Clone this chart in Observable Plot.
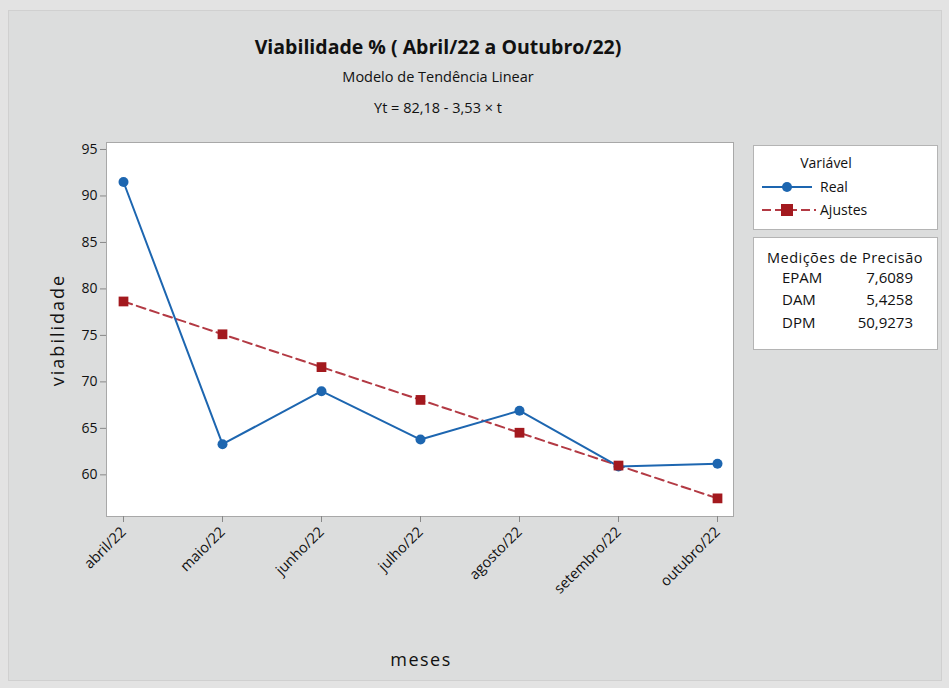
<!DOCTYPE html>
<html><head><meta charset="utf-8">
<script src="https://cdn.jsdelivr.net/npm/d3@7"></script>
<script src="https://cdn.jsdelivr.net/npm/@observablehq/plot@0.6"></script>
<style>
html,body{margin:0;padding:0;background:#e3e3e3;}
#wrap{position:relative;width:949px;height:688px;font-family:"Open Sans",sans-serif;overflow:hidden;background:#e3e3e3;color:#111}
#panel{position:absolute;left:8px;top:10px;width:932px;height:669px;background:#dcdddd;border:1px solid #d0d0d0}
#chart{position:absolute;left:0;top:0}
.t{position:absolute;white-space:nowrap;}
.c{transform:translateX(-50%);}
.box{position:absolute;background:#fff;border:1px solid #b4b4b4;}
#acc .t{line-height:1.15;}
</style></head>
<body><div id="wrap"><div id="panel"></div><div id="chart"></div>
<div class="t c" style="left:438px;top:33px;font-size:19.5px;font-weight:700;">Viabilidade % ( Abril/22 a Outubro/22)</div>
<div class="t c" style="left:438px;top:67px;font-size:14.5px;">Modelo de Tendência Linear</div>
<div class="t c" style="left:438px;top:98px;font-size:14.5px;">Yt = 82,18 - 3,53 × t</div>
<div class="t" style="left:57px;top:330px;font-size:18px;letter-spacing:2px;transform:translate(-50%,-50%) rotate(-90deg);">viabilidade</div>
<div class="t c" style="left:421px;top:647px;font-size:18px;letter-spacing:1.5px;">meses</div>
<div class="box" style="left:753px;top:145px;width:183px;height:83px;">
  <div class="t c" style="left:72px;top:7px;font-size:14px;">Variável</div>
  <svg class="t" style="left:6px;top:31px" width="60" height="60">
    <line x1="2" x2="52" y1="10" y2="10" stroke="#1d66b0" stroke-width="2"/>
    <circle cx="27" cy="10" r="5" fill="#1d66b0"/>
    <line x1="2" x2="56" y1="33" y2="33" stroke="#b33a44" stroke-width="2" stroke-dasharray="9,4"/>
    <rect x="21" y="27" width="12" height="12" fill="#a3191e"/>
  </svg>
  <div class="t" style="left:66px;top:31px;font-size:14px;">Real</div>
  <div class="t" style="left:66px;top:54px;font-size:14px;">Ajustes</div>
</div>
<div class="box" style="left:753px;top:237px;width:183px;height:111px;" id="acc"></div>
</div>
<script>
const meses = ["abril/22","maio/22","junho/22","julho/22","agosto/22","setembro/22","outubro/22"];
const real = [91.5, 63.3, 69.0, 63.8, 66.9, 60.9, 61.2];
const ajustes = [78.65, 75.12, 71.59, 68.06, 64.53, 61.00, 57.47];
const yTicks = [60, 65, 70, 75, 80, 85, 90, 95];
const medidas = ["EPAM", "DAM", "DPM"];
const valores = ["7,6089", "5,4258", "50,9273"];

const dReal = meses.map((m, i) => ({mes: m, v: real[i]}));
const dAj = meses.map((m, i) => ({mes: m, v: ajustes[i]}));

const chart = Plot.plot({
  width: 949, height: 688,
  marginLeft: 106, marginRight: 216, marginTop: 142, marginBottom: 172,
  style: {background: "transparent", fontFamily: "Open Sans, sans-serif", color: "#111"},
  x: {type: "point", domain: meses, padding: 0, insetLeft: 16, insetRight: 16},
  y: {domain: [55.52, 95.75]},
  marks: [
    Plot.frame({fill: "#fff", stroke: "#a8a8a8"}),
    Plot.axisY({ticks: yTicks, tickSize: 6, tickPadding: 3, fontSize: 14, label: null, stroke: "#888"}),
    Plot.axisX({tickSize: 6, tickPadding: 7, tickRotate: -45, fontSize: 14.5, label: null, stroke: "#888"}),
    Plot.line(dAj, {x: "mes", y: "v", stroke: "#b33a44", strokeWidth: 2, strokeDasharray: "9,5"}),
    Plot.line(dReal, {x: "mes", y: "v", stroke: "#1d66b0", strokeWidth: 2}),
    Plot.dot(dReal, {x: "mes", y: "v", r: 5, fill: "#1d66b0", stroke: "none"}),
    Plot.dot(dAj, {x: "mes", y: "v", symbol: "square", r: 5.5, fill: "#a3191e", stroke: "none"})
  ]
});
document.getElementById("chart").appendChild(chart);

const acc = document.getElementById("acc");
let html = '<div class="t c" style="left:91px;top:11.5px;font-size:14.5px;letter-spacing:0.5px;">Medições de Precisão</div>';
medidas.forEach((m, i) => {
  html += `<div class="t" style="left:28px;top:${30.5 + i * 22.5}px;font-size:15px;">${m}</div>`;
  html += `<div class="t" style="right:24px;top:${30.5 + i * 22.5}px;font-size:15px;">${valores[i]}</div>`;
});
acc.innerHTML = html;
</script>
</body></html>
